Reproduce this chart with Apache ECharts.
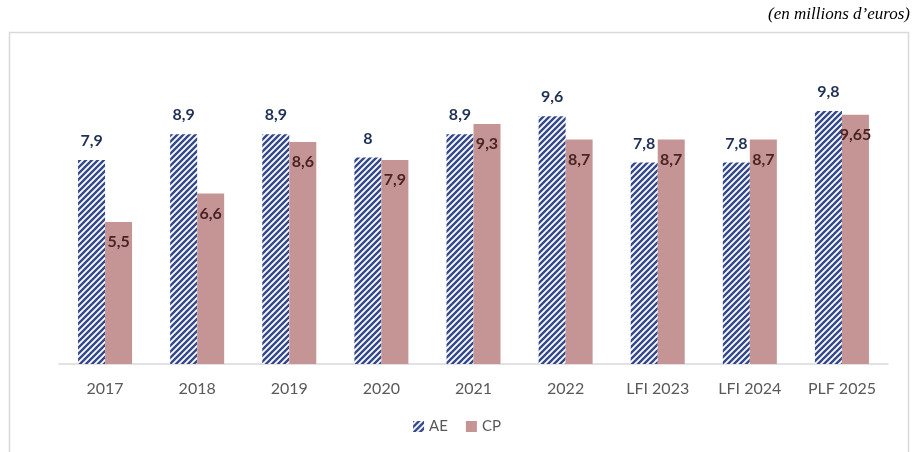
<!DOCTYPE html>
<html>
<head>
<meta charset="utf-8">
<script src="https://cdn.jsdelivr.net/npm/echarts@6/dist/echarts.min.js"></script>
<style>
  html, body { margin: 0; padding: 0; background: #fff; }
  #chart { width: 914px; height: 452px; }
</style>
</head>
<body>
<div id="chart"></div>
<script>
// Budget: autorisations d'engagement (AE) et crédits de paiement (CP)
const categories = ['2017', '2018', '2019', '2020', '2021', '2022', 'LFI 2023', 'LFI 2024', 'PLF 2025'];
const aeValues = [7.9, 8.9, 8.9, 8.0, 8.9, 9.6, 7.8, 7.8, 9.8];
const cpValues = [5.5, 6.6, 8.6, 7.9, 9.3, 8.7, 8.7, 8.7, 9.65];
const aeLabels = ['7,9', '8,9', '8,9', '8', '8,9', '9,6', '7,8', '7,8', '9,8'];
const cpLabels = ['5,5', '6,6', '8,6', '7,9', '9,3', '8,7', '8,7', '8,7', '9,65'];

// Diagonal hatch fill for the AE bars
function hatchCanvas() {
  const c = document.createElement('canvas');
  const s = 6;
  c.width = s; c.height = s;
  const g = c.getContext('2d');
  g.fillStyle = '#ffffff';
  g.fillRect(0, 0, s, s);
  g.strokeStyle = '#34498c';
  g.lineWidth = 2.4;
  g.beginPath();
  g.moveTo(-1, s + 1); g.lineTo(s + 1, -1);
  g.moveTo(-1, 1); g.lineTo(1, -1);
  g.moveTo(s - 1, s + 1); g.lineTo(s + 1, s - 1);
  g.stroke();
  return c;
}
const hatch = { image: hatchCanvas(), repeat: 'repeat' };

const chart = echarts.init(document.getElementById('chart'), null, { renderer: 'canvas' });
chart.setOption({
  animation: false,
  textStyle: { fontFamily: 'Lato, "Open Sans", sans-serif' },
  graphic: [
    {
      type: 'rect', silent: true,
      shape: { x: 9.5, y: 32.5, width: 899, height: 440 },
      style: { fill: 'none', stroke: '#d9d9d9', lineWidth: 1.5 }
    },
    {
      type: 'text', right: 4, top: 6,
      style: {
        text: '(en millions d\u2019euros)',
        font: 'italic 17px "Liberation Serif", "DejaVu Serif", serif',
        fill: '#000'
      }
    }
  ],
  legend: {
    bottom: 13, left: 'center',
    itemWidth: 11, itemHeight: 11, itemGap: 18,
    textStyle: { color: '#595959', fontSize: 15, fontFamily: 'Lato, sans-serif' },
    data: [
      { name: 'AE', icon: 'rect', itemStyle: { color: hatch } },
      { name: 'CP', icon: 'rect' }
    ]
  },
  grid: { left: 59, right: 26, top: 80, bottom: 88 },
  xAxis: {
    type: 'category',
    data: categories,
    axisLine: { lineStyle: { color: '#d9d9d9', width: 1.5 } },
    axisTick: { show: false },
    axisLabel: { color: '#595959', fontSize: 16, margin: 17 }
  },
  yAxis: {
    type: 'value', min: 0, max: 11,
    show: false,
    splitLine: { show: false }
  },
  series: [
    {
      name: 'AE', type: 'bar',
      data: aeValues,
      barWidth: 27, barGap: '0%',
      itemStyle: { color: hatch },
      label: {
        show: true, position: 'top', distance: 11,
        formatter: p => aeLabels[p.dataIndex],
        color: '#1f3055', fontSize: 16, fontWeight: 'bold'
      }
    },
    {
      name: 'CP', type: 'bar',
      data: cpValues,
      barWidth: 27,
      itemStyle: { color: '#c59595' },
      label: {
        show: true, position: 'insideTop', distance: 12,
        formatter: p => cpLabels[p.dataIndex],
        color: '#4a2323', fontSize: 16, fontWeight: 'bold'
      }
    }
  ]
});
</script>
</body>
</html>
